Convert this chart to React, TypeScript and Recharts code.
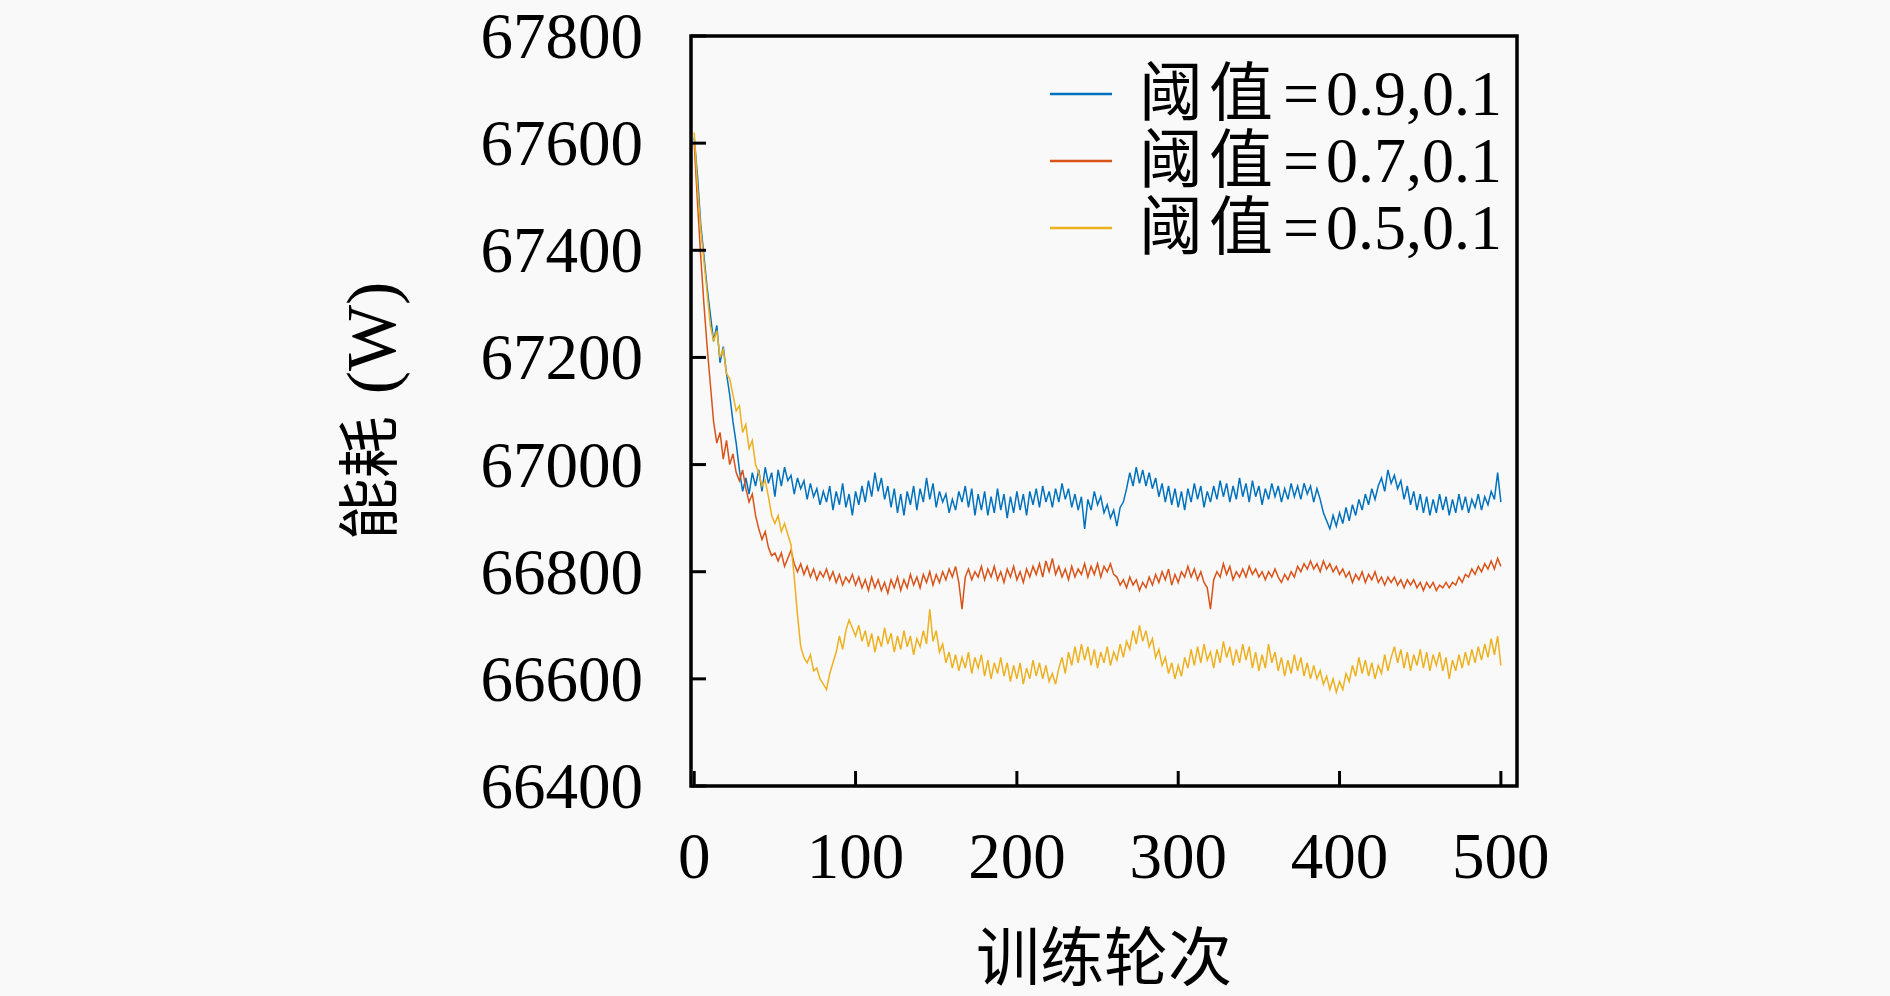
import React from 'react';
import { LineChart, Line, XAxis, YAxis, ReferenceArea, Legend } from 'recharts';

const epochs: number[] = [];
for (let e = 0; e <= 500; e += 2) epochs.push(e);

const blueValues = [
  67610, 67540, 67450, 67390, 67330, 67280, 67230, 67260, 67190, 67220,
  67170, 67130, 67080, 67040, 66990, 66950, 66975, 66945, 66985, 66960,
  66990, 66950, 66995, 66965, 66985, 66940, 66990, 66960, 66995, 66970,
  66980, 66945, 66975, 66955, 66970, 66935, 66965, 66940, 66955, 66925,
  66950, 66930, 66960, 66915, 66950, 66925, 66965, 66920, 66945, 66905,
  66950, 66925, 66960, 66930, 66970, 66940, 66985, 66950, 66975, 66935,
  66960, 66920, 66955, 66910, 66945, 66905, 66950, 66925, 66960, 66915,
  66955, 66930, 66975, 66935, 66965, 66920, 66950, 66930, 66945, 66910,
  66935, 66915, 66950, 66930, 66960, 66920, 66955, 66905, 66945, 66915,
  66950, 66905, 66940, 66910, 66955, 66915, 66945, 66900, 66940, 66910,
  66950, 66915, 66945, 66905, 66950, 66925, 66955, 66920, 66960, 66930,
  66950, 66920, 66955, 66930, 66965, 66935, 66955, 66920, 66945, 66915,
  66940, 66880, 66935, 66915, 66950, 66925, 66940, 66910, 66925, 66900,
  66915, 66885, 66920, 66930, 66955, 66985, 66960, 66995, 66965, 66990,
  66960, 66985, 66955, 66975, 66940, 66965, 66930, 66960, 66925, 66955,
  66920, 66950, 66915, 66955, 66930, 66965, 66935, 66960, 66920, 66950,
  66930, 66960, 66935, 66970, 66940, 66965, 66930, 66960, 66935, 66975,
  66940, 66965, 66930, 66970, 66940, 66960, 66925, 66955, 66935, 66965,
  66940, 66960, 66930, 66955, 66935, 66965, 66940, 66960, 66935, 66965,
  66945, 66960, 66930, 66955, 66935, 66910, 66895, 66880, 66905, 66885,
  66910, 66890, 66920, 66895, 66925, 66905, 66935, 66915, 66945, 66925,
  66955, 66935, 66960, 66975, 66950, 66990, 66965, 66980, 66955, 66970,
  66935, 66960, 66925, 66950, 66915, 66945, 66910, 66940, 66905, 66935,
  66910, 66945, 66915, 66940, 66905, 66935, 66910, 66945, 66915, 66940,
  66910, 66935, 66920, 66945, 66915, 66940, 66925, 66950, 66935, 66985,
  66930,
];

const redValues = [
  67600, 67490, 67390, 67300, 67220, 67150, 67080, 67040, 67060, 67010,
  67045, 67000, 67020, 66985, 66970, 66990, 66955, 66930, 66945, 66905,
  66880, 66860, 66875, 66845, 66830, 66835, 66820, 66835, 66810, 66825,
  66840, 66815, 66800, 66815, 66795, 66810, 66790, 66805, 66785, 66800,
  66790, 66805, 66785, 66800, 66780, 66795, 66775, 66790, 66780, 66795,
  66775, 66790, 66770, 66785, 66765, 66790, 66770, 66785, 66765, 66780,
  66760, 66785, 66770, 66790, 66765, 66785, 66770, 66795, 66775, 66790,
  66770, 66795, 66780, 66800, 66775, 66795, 66780, 66800, 66785, 66805,
  66790, 66810, 66780, 66730, 66790, 66805, 66785, 66800, 66790, 66810,
  66785, 66805, 66790, 66810, 66785, 66800, 66780, 66805, 66790, 66810,
  66785, 66800, 66780, 66805, 66790, 66810, 66795, 66815, 66790, 66820,
  66800, 66825, 66795, 66810, 66790, 66805, 66785, 66810, 66790, 66805,
  66795, 66815, 66790, 66810, 66795, 66815, 66790, 66810, 66800, 66815,
  66795, 66790, 66775, 66785, 66770, 66790, 66775, 66785, 66765, 66780,
  66770, 66790, 66775, 66795, 66780, 66800, 66785, 66805, 66775, 66795,
  66780, 66800, 66790, 66810, 66790, 66805, 66785, 66800, 66780, 66770,
  66730, 66785, 66800, 66790, 66815, 66795, 66810, 66785, 66800, 66790,
  66805, 66790, 66810, 66795, 66805, 66790, 66800, 66785, 66800, 66790,
  66805, 66790, 66780, 66795, 66785, 66800, 66790, 66810, 66800, 66815,
  66805, 66820, 66805, 66815, 66800, 66820, 66805, 66815, 66800, 66810,
  66795, 66805, 66790, 66800, 66780, 66795, 66785, 66800, 66780, 66795,
  66785, 66800, 66780, 66790, 66775, 66790, 66780, 66790, 66775, 66785,
  66770, 66785, 66775, 66785, 66770, 66780, 66765, 66780, 66770, 66780,
  66765, 66775, 66770, 66780, 66770, 66780, 66775, 66790, 66780, 66795,
  66790, 66805, 66795, 66810, 66800, 66815, 66805, 66820, 66805, 66825,
  66810,
];

const yellowValues = [
  67620, 67520, 67440, 67380, 67320, 67260, 67230, 67250, 67200, 67215,
  67170, 67160, 67130, 67100, 67110, 67060, 67075, 67030, 67045, 67000,
  66985, 66960, 66970, 66940, 66905, 66890, 66905, 66875, 66890, 66870,
  66850, 66790, 66720, 66660, 66640, 66630, 66645, 66615, 66620, 66600,
  66590, 66580, 66610, 66630, 66650, 66680, 66655, 66690, 66710, 66695,
  66680, 66700, 66670, 66690, 66660, 66685, 66650, 66680, 66660, 66695,
  66665, 66685, 66650, 66680, 66655, 66690, 66660, 66680, 66645, 66675,
  66660, 66690, 66665, 66730, 66670, 66690, 66650, 66665, 66630, 66650,
  66620, 66645, 66615, 66640, 66620, 66650, 66610, 66640, 66620, 66645,
  66605, 66635, 66600, 66630, 66610, 66640, 66605, 66630, 66595, 66625,
  66600, 66630, 66590, 66620, 66600, 66635, 66605, 66630, 66600, 66625,
  66595, 66610, 66590, 66620, 66640, 66610, 66650, 66625, 66660, 66630,
  66665, 66635, 66660, 66625, 66655, 66620, 66650, 66630, 66660, 66625,
  66650, 66635, 66665, 66640, 66670, 66655, 66690, 66665, 66700, 66670,
  66690, 66660, 66675, 66640, 66655, 66625, 66640, 66610, 66630, 66600,
  66625, 66605, 66640, 66620, 66655, 66625, 66660, 66630, 66665, 66635,
  66650, 66620, 66655, 66630, 66670, 66640, 66660, 66625, 66655, 66630,
  66665, 66635, 66660, 66620, 66650, 66615, 66645, 66620, 66665, 66630,
  66650, 66615, 66640, 66605, 66635, 66610, 66645, 66615, 66640, 66605,
  66630, 66600, 66625, 66600, 66615, 66590, 66605, 66580, 66600, 66575,
  66595, 66580, 66610, 66595, 66625, 66605, 66640, 66610, 66635, 66605,
  66630, 66600, 66625, 66610, 66645, 66615, 66640, 66660, 66630, 66655,
  66620, 66650, 66615, 66645, 66625, 66655, 66620, 66650, 66615, 66645,
  66625, 66650, 66615, 66640, 66600, 66635, 66615, 66645, 66620, 66650,
  66625, 66655, 66630, 66660, 66635, 66665, 66640, 66675, 66645, 66680,
  66625,
];

const xTicks = [0, 100, 200, 300, 400, 500];
const yTicks = [66400, 66600, 66800, 67000, 67200, 67400, 67600, 67800];
const legendPrefix = '阈值';
const legendValues = ['=0.9,0.1', '=0.7,0.1', '=0.5,0.1'];
const seriesNames = legendValues.map((v) => legendPrefix + v);
const seriesColors = ['#0072BD', '#D95319', '#EDB120'];

const data = epochs.map((e, i) => ({
  e,
  b: blueValues[i],
  r: redValues[i],
  y: yellowValues[i],
}));

const FONT = "'Liberation Serif', 'Noto Sans CJK SC', serif";

const XTick = (props: any) => {
  const { x, y, payload } = props;
  return (
    <g>
      <line x1={x} x2={x} y1={y} y2={y - 15} stroke="#000" strokeWidth={3} />
      <text x={x} y={y + 92} textAnchor="middle" fontSize={65} fontFamily={FONT} fill="#000">
        {payload.value}
      </text>
    </g>
  );
};

const YTick = (props: any) => {
  const { x, y, payload } = props;
  return (
    <g>
      <line x1={x} x2={x + 15} y1={y} y2={y} stroke="#000" strokeWidth={3} />
      <text x={x - 48} y={y + 22} textAnchor="end" fontSize={65} fontFamily={FONT} fill="#000">
        {payload.value}
      </text>
    </g>
  );
};

const LegendContent = () => (
  <div style={{ fontFamily: FONT, fontSize: 64, color: '#000' }}>
    {legendValues.map((v, i) => (
      <div key={v} style={{ display: 'flex', alignItems: 'center', height: 67, lineHeight: '67px', whiteSpace: 'nowrap' }}>
        <svg width={62} height={4} style={{ display: 'block' }}>
          <line x1={0} x2={62} y1={2} y2={2} stroke={seriesColors[i]} strokeWidth={2.5} />
        </svg>
        <span style={{ marginLeft: 27 }}>
          <span style={{ letterSpacing: 6 }}>{legendPrefix}</span>
          <span style={{ margin: '0 7px 0 4px' }}>{v.slice(0, 1)}</span>
          {v.slice(1)}
        </span>
      </div>
    ))}
  </div>
);

export default function App() {
  return (
    <div style={{ position: 'absolute', left: 0, top: 0, width: 1890, height: 996, background: '#f9f9f9' }}>
      <LineChart
        width={1890}
        height={996}
        data={data}
        margin={{ top: 36, right: 373, bottom: 150, left: 591 }}
      >
        <XAxis
          dataKey="e"
          type="number"
          domain={[-2, 510]}
          ticks={xTicks}
          height={60}
          axisLine={false}
          tickLine={false}
          tickSize={0}
          tickMargin={0}
          tick={<XTick />}
          interval={0}
          label={{
            content: (p: any) => {
              const vb = p.viewBox;
              return (
                <text x={vb.x + vb.width / 2} y={980} textAnchor="middle" fontSize={64} fontFamily={FONT} fill="#000">
                  训练轮次
                </text>
              );
            },
          }}
        />
        <YAxis
          type="number"
          domain={[66400, 67800]}
          ticks={yTicks}
          width={100}
          axisLine={false}
          tickLine={false}
          tickSize={0}
          tickMargin={0}
          tick={<YTick />}
          interval={0}
          allowDataOverflow
          label={{
            content: (p: any) => {
              const vb = p.viewBox;
              const cx = 371;
              const cy = vb.y + vb.height / 2;
              return (
                <text
                  x={cx}
                  y={cy}
                  transform={`rotate(-90 ${cx} ${cy})`}
                  textAnchor="middle"
                  dominantBaseline="central"
                  fontSize={62}
                  fontFamily={FONT}
                  fill="#000"
                >
                  能耗
                  <tspan dx={22} fontSize={70}>(W)</tspan>
                </text>
              );
            },
          }}
        />
        <Line dataKey="b" name={seriesNames[0]} stroke={seriesColors[0]} strokeWidth={1.5} dot={false} isAnimationActive={false} />
        <Line dataKey="r" name={seriesNames[1]} stroke={seriesColors[1]} strokeWidth={1.5} dot={false} isAnimationActive={false} />
        <Line dataKey="y" name={seriesNames[2]} stroke={seriesColors[2]} strokeWidth={1.5} dot={false} isAnimationActive={false} />
        <ReferenceArea x1={-2} x2={510} y1={66400} y2={67800} fill="none" stroke="#000" strokeWidth={3.5} ifOverflow="visible" />
        <Legend
          layout="horizontal"
          align="center"
          verticalAlign="middle"
          content={<LegendContent />}
          wrapperStyle={{ position: 'absolute', left: 1050, top: 60, width: 'auto', height: 'auto' }}
        />
      </LineChart>
    </div>
  );
}
